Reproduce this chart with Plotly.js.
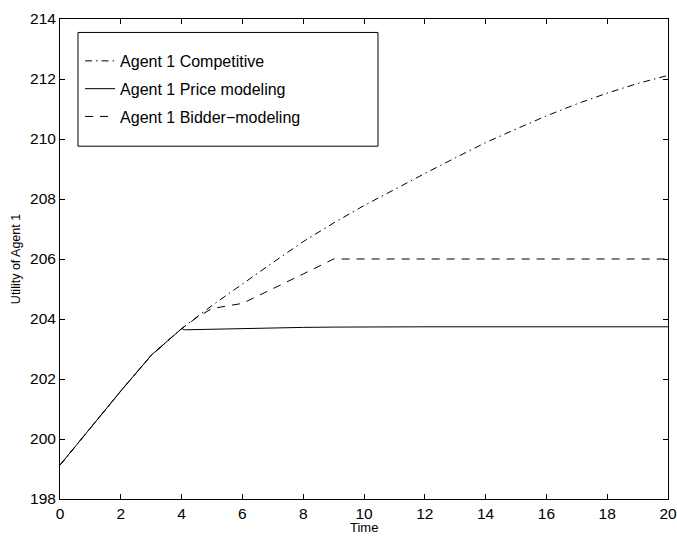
<!DOCTYPE html>
<html>
<head>
<meta charset="utf-8">
<script src="https://cdn.plot.ly/plotly-3.0.1.min.js"></script>
<style>html,body{margin:0;padding:0;background:#fff;}#chart{width:677px;height:536px;}</style>
</head>
<body>
<div id="chart"></div>
<script>
const timeCompetitive = [0,1,2,3,4,5,6,7,8,9,10,11,12,13,14,15,16,17,18,19,20];
const utilCompetitive = [199.13,200.36,201.6,202.79,203.68,204.45,205.18,205.88,206.58,207.2,207.78,208.32,208.85,209.37,209.88,210.33,210.77,211.17,211.53,211.85,212.12];

const timePrice = [0,1,2,3,4,4.1,5,6,7,8,9,10,11,12,13,14,15,16,17,18,19,20];
const utilPrice = [199.13,200.36,201.6,202.79,203.68,203.64,203.66,203.69,203.71,203.72,203.73,203.74,203.74,203.74,203.74,203.74,203.74,203.74,203.74,203.74,203.74,203.74];

const timeBidder = [0,1,2,3,4,4.5,5,6,7,8,9,10,11,12,13,14,15,16,17,18,19,20];
const utilBidder = [199.13,200.36,201.6,202.79,203.68,204.05,204.35,204.52,205.0,205.5,206.0,206.0,206.0,206.0,206.0,206.0,206.0,206.0,206.0,206.0,206.0,206.0];

const seriesNames = ['Agent 1 Competitive','Agent 1 Price modeling','Agent 1 Bidder\u2212modeling'];
const xTicks = [0,2,4,6,8,10,12,14,16,18,20];
const yTicks = [198,200,202,204,206,208,210,212,214];
const xTitle = 'Time';
const yTitle = 'Utility of Agent 1';

const FONT = '"Liberation Sans", Arial, Helvetica, sans-serif';

const traces = [
  {x: timeCompetitive, y: utilCompetitive, name: seriesNames[0], mode: 'lines', legendgroup: 'a',
   line: {color: '#000', width: 1, dash: '7px,4px,1.5px,4px'}},
  {x: timePrice, y: utilPrice, name: seriesNames[1], mode: 'lines', legendgroup: 'b',
   line: {color: '#000', width: 1}},
  {x: timeBidder, y: utilBidder, name: seriesNames[2], mode: 'lines', legendgroup: 'c',
   line: {color: '#000', width: 1, dash: '8px,7px'}}
];

const axisCommon = {
  showgrid: false, zeroline: false, showline: true, linecolor: '#000', linewidth: 1,
  mirror: 'ticks', ticks: 'inside', ticklen: 5, tickcolor: '#000', tickwidth: 1,
  tickfont: {family: FONT, size: 15.5, color: '#000'}
};

const layout = {
  width: 677, height: 536,
  margin: {l: 60, r: 9, t: 19, b: 37},
  paper_bgcolor: '#fff', plot_bgcolor: '#fff',
  font: {family: FONT, color: '#000'},
  showlegend: true,
  xaxis: Object.assign({}, axisCommon, {
    range: [0, 20], tickvals: xTicks, ticktext: xTicks.map(String)
  }),
  yaxis: Object.assign({}, axisCommon, {
    range: [198, 214], tickvals: yTicks, ticktext: yTicks.map(String),
    title: {text: yTitle, font: {family: FONT, size: 12.5, color: '#000'}, standoff: 6}
  }),
  annotations: [
    {text: xTitle, xref: 'paper', yref: 'paper', x: 0.5, y: -0.0425, xanchor: 'center', yanchor: 'top',
     showarrow: false, font: {family: FONT, size: 13, color: '#000'}, borderpad: 0}
  ],
  legend: {
    x: 0.033, y: 0.948, xanchor: 'left', yanchor: 'top',
    bgcolor: 'rgba(0,0,0,0)', borderwidth: 0,
    font: {family: FONT, size: 16, color: '#000'},
    tracegroupgap: 4, traceorder: 'grouped'
  },
  shapes: [
    {type: 'rect', xref: 'paper', yref: 'paper', x0: 0.0296, x1: 0.523, y0: 0.735, y1: 0.972,
     line: {color: '#000', width: 1}, fillcolor: 'rgba(255,255,255,0)', layer: 'above'}
  ]
};

Plotly.newPlot('chart', traces, layout, {displayModeBar: false, staticPlot: true});
</script>
</body>
</html>
